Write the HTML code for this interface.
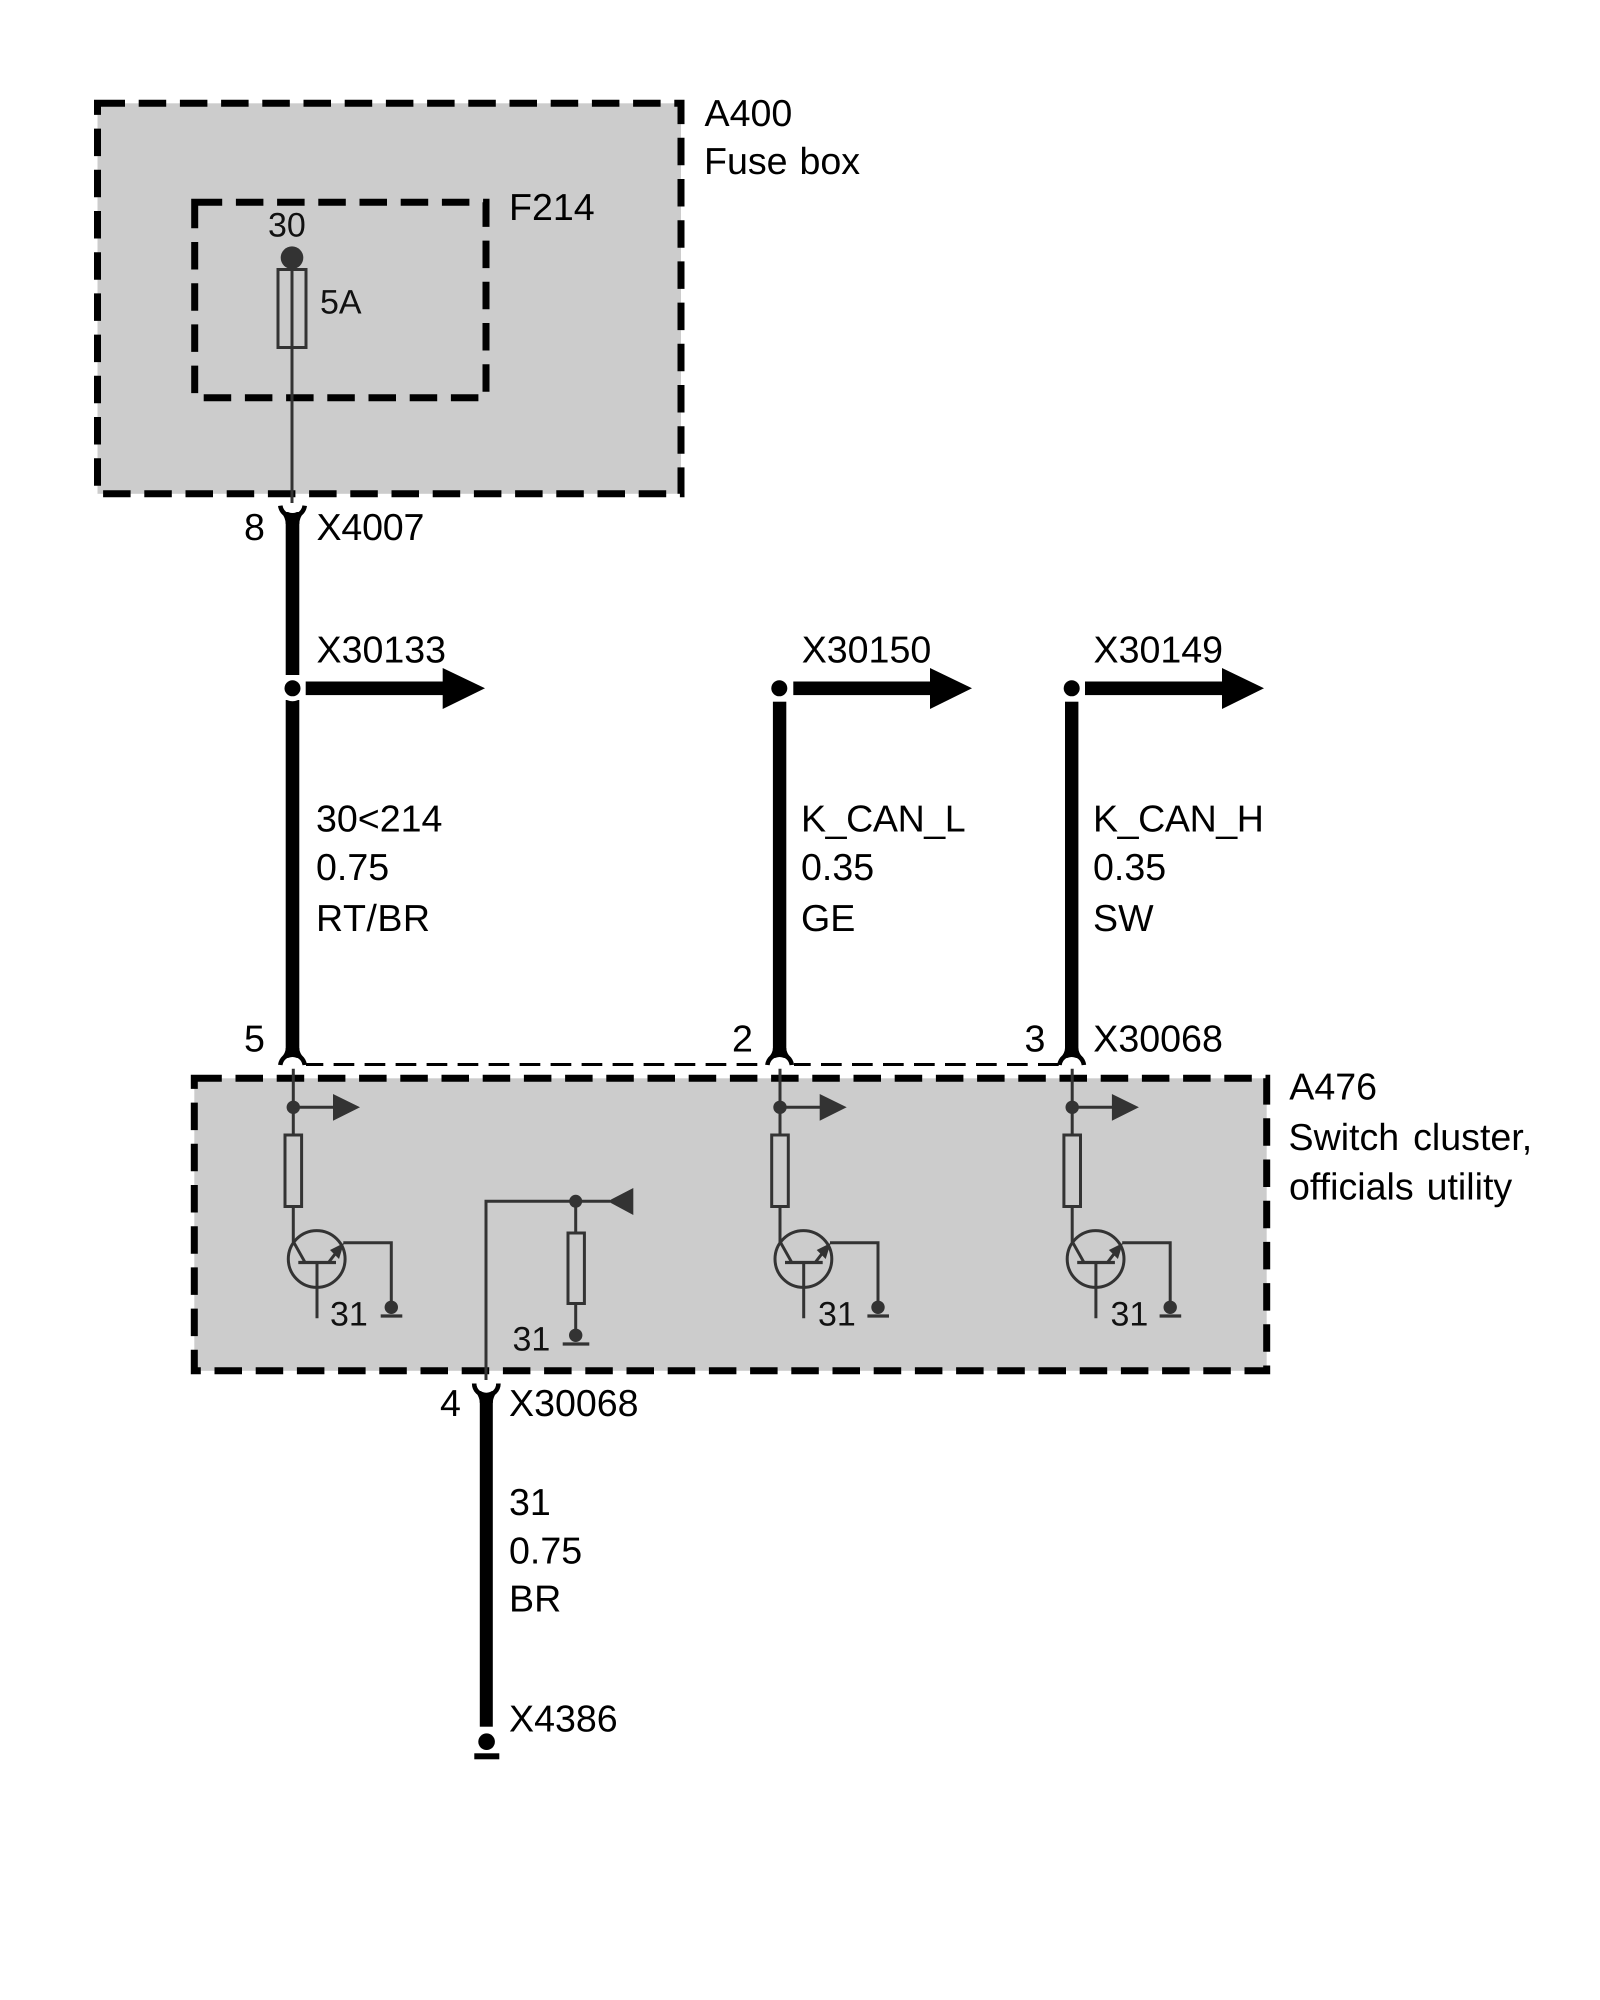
<!DOCTYPE html>
<html>
<head>
<meta charset="utf-8">
<style>
html,body{margin:0;padding:0;background:#fff;width:1600px;height:2000px;overflow:hidden}
svg{display:block}
text{font-family:"Liberation Sans",Arial,sans-serif;fill:#000;font-size:37.6px;text-rendering:geometricPrecision}
.s{font-size:34px;fill:#111}
.t{fill:none;stroke:#333;stroke-width:3}
.d{fill:#333}
.box{stroke:#000;stroke-width:7;stroke-dasharray:27.5 13.7}
.k{letter-spacing:-0.4px}
</style>
</head>
<body>
<svg width="1600" height="2000" viewBox="0 0 1600 2000" xmlns="http://www.w3.org/2000/svg">
<rect width="1600" height="2000" fill="#fff"/>

<!-- thick wires and forks, drawn under boxes -->
<g fill="#000">
  <!-- pin 8 fork -->
  <path d="M285.7 524 Q285.7 518 281 512 L304 512 Q299.3 518 299.3 524Z"/>
  <path d="M280.3 505.7 A12.3 12.3 0 0 0 304.7 505.7" fill="none" stroke="#000" stroke-width="4.6"/>
  <circle cx="292.5" cy="503" r="10" fill="#fff"/>
  <rect x="285.7" y="522" width="13.6" height="153"/>
  <rect x="285.7" y="700" width="13.6" height="350"/>

  <!-- upper forks -->
  <path d="M285.7 1048 Q285.7 1053 281 1058 L304 1058 Q299.3 1053 299.3 1048Z"/>
  <path d="M280.3 1065 A12.3 12.3 0 0 1 304.7 1065" fill="none" stroke="#000" stroke-width="4.6"/>
  <circle cx="292.5" cy="1067" r="10" fill="#fff"/>

  <rect x="772.9" y="701.7" width="13.4" height="348"/>
  <path d="M772.9 1048 Q772.9 1053 768.1 1058 L791.1 1058 Q786.3 1053 786.3 1048Z"/>
  <path d="M767.4 1065 A12.3 12.3 0 0 1 791.8 1065" fill="none" stroke="#000" stroke-width="4.6"/>
  <circle cx="779.6" cy="1067" r="10" fill="#fff"/>

  <rect x="1065" y="701.7" width="13.4" height="348"/>
  <path d="M1065 1048 Q1065 1053 1060.2 1058 L1083.2 1058 Q1078.4 1053 1078.4 1048Z"/>
  <path d="M1059.5 1065 A12.3 12.3 0 0 1 1083.9 1065" fill="none" stroke="#000" stroke-width="4.6"/>
  <circle cx="1071.7" cy="1067" r="10" fill="#fff"/>

  <!-- pin 4 fork -->
  <path d="M474.2 1383.5 A12.1 12.1 0 0 0 498.4 1383.5" fill="none" stroke="#000" stroke-width="4.6"/>
  <path d="M479.8 1403 Q479.8 1397 475 1391 L497.5 1391 Q492.8 1397 492.8 1403Z"/>
  <circle cx="486.3" cy="1383" r="9.8" fill="#fff"/>
  <rect x="479.8" y="1401" width="13" height="325.7"/>
  <circle cx="486.6" cy="1741.7" r="8.3"/>
  <rect x="474.3" y="1753.3" width="25" height="6"/>
</g>

<!-- dashed link -->
<path d="M306 1064.5H765" stroke="#000" stroke-width="3" stroke-dasharray="20.7 10.3" stroke-dashoffset="3.4" fill="none"/>
<path d="M794 1064.5H1059" stroke="#000" stroke-width="3" stroke-dasharray="20.7 10.3" stroke-dashoffset="4" fill="none"/>

<!-- outgoing arrows -->
<g fill="#000">
  <circle cx="292.5" cy="688.3" r="13" fill="#fff"/>
  <circle cx="292.5" cy="688.3" r="8"/>
  <rect x="305.7" y="681.5" width="140" height="13.6"/>
  <polygon points="442.7,668 485,688.3 442.7,709"/>

  <circle cx="779.3" cy="688.3" r="8"/>
  <rect x="793.3" y="681.5" width="140" height="13.6"/>
  <polygon points="930,668 972,688.3 930,709"/>

  <circle cx="1071.7" cy="688.3" r="8"/>
  <rect x="1085" y="681.5" width="140" height="13.6"/>
  <polygon points="1222,668 1264,688.3 1222,709"/>
</g>

<!-- boxes -->
<rect class="box" x="97.5" y="103.3" width="583.5" height="390.5" fill="#ccc"/>
<rect class="box" x="194.7" y="202.3" width="291.3" height="195.5" fill="none"/>
<rect class="box" x="194.3" y="1078.3" width="1072.4" height="292.5" fill="#ccc"/>

<!-- fuse -->
<circle class="d" cx="292" cy="257.7" r="11.3"/>
<rect class="t" x="278" y="269.5" width="28" height="78"/>
<path class="t" d="M292 258V503"/>

<!-- unit 1 -->
<g>
  <path class="t" d="M293.3 1068.7V1134.5M293.3 1207V1241.5L305 1262.3"/>
  <circle class="d" cx="293.3" cy="1107.3" r="6.7"/>
  <path class="t" d="M293.3 1107.3H335"/>
  <polygon class="d" points="333,1094 360,1107.3 333,1120.7"/>
  <rect class="t" x="285" y="1135" width="16.6" height="71.5" fill="#ccc"/>
  <circle class="t" cx="316.7" cy="1259" r="28.4"/>
  <path class="t" style="stroke-width:3.2" d="M298.3 1262.5H336"/>
  <path class="t" d="M317 1262.5V1318.3M328.5 1262.5L342 1245M343.3 1242.7H391.3V1307"/>
  <polygon class="d" points="344,1243 330,1250 339,1259"/>
  <circle class="d" cx="391.3" cy="1307.3" r="6.7"/>
  <path class="t" style="stroke-width:3.3" d="M380.7 1316H402.3"/>
</g>
<!-- unit 2 -->
<g transform="translate(486.7 0)">
  <path class="t" d="M293.3 1068.7V1134.5M293.3 1207V1241.5L305 1262.3"/>
  <circle class="d" cx="293.3" cy="1107.3" r="6.7"/>
  <path class="t" d="M293.3 1107.3H335"/>
  <polygon class="d" points="333,1094 360,1107.3 333,1120.7"/>
  <rect class="t" x="285" y="1135" width="16.6" height="71.5" fill="#ccc"/>
  <circle class="t" cx="316.7" cy="1259" r="28.4"/>
  <path class="t" style="stroke-width:3.2" d="M298.3 1262.5H336"/>
  <path class="t" d="M317 1262.5V1318.3M328.5 1262.5L342 1245M343.3 1242.7H391.3V1307"/>
  <polygon class="d" points="344,1243 330,1250 339,1259"/>
  <circle class="d" cx="391.3" cy="1307.3" r="6.7"/>
  <path class="t" style="stroke-width:3.3" d="M380.7 1316H402.3"/>
</g>
<!-- unit 3 -->
<g transform="translate(778.9 0)">
  <path class="t" d="M293.3 1068.7V1134.5M293.3 1207V1241.5L305 1262.3"/>
  <circle class="d" cx="293.3" cy="1107.3" r="6.7"/>
  <path class="t" d="M293.3 1107.3H335"/>
  <polygon class="d" points="333,1094 360,1107.3 333,1120.7"/>
  <rect class="t" x="285" y="1135" width="16.6" height="71.5" fill="#ccc"/>
  <circle class="t" cx="316.7" cy="1259" r="28.4"/>
  <path class="t" style="stroke-width:3.2" d="M298.3 1262.5H336"/>
  <path class="t" d="M317 1262.5V1318.3M328.5 1262.5L342 1245M343.3 1242.7H391.3V1307"/>
  <polygon class="d" points="344,1243 330,1250 339,1259"/>
  <circle class="d" cx="391.3" cy="1307.3" r="6.7"/>
  <path class="t" style="stroke-width:3.3" d="M380.7 1316H402.3"/>
</g>

<!-- input section -->
<path class="t" d="M486 1380V1201.3H610M575.7 1201.3V1232M575.7 1304V1335"/>
<circle class="d" cx="575.7" cy="1201.3" r="6.5"/>
<polygon class="d" points="607.7,1201.3 633.3,1188 633.3,1215"/>
<rect class="t" x="568" y="1233" width="16.4" height="70.5" fill="#ccc"/>
<circle class="d" cx="575.7" cy="1335.3" r="6.7"/>
<path class="t" style="stroke-width:3.3" d="M562.7 1344H589.3"/>

<!-- labels -->
<text x="704.5" y="126">A400</text>
<text x="704" y="174" style="word-spacing:1.5px">Fuse box</text>
<text x="509" y="220">F214</text>
<text class="s" x="268" y="236.7">30</text>
<text class="s" x="320" y="313.3">5A</text>
<text x="244" y="540">8</text>
<text x="316.5" y="540" style="letter-spacing:-0.2px">X4007</text>
<text x="316.5" y="662.7">X30133</text>
<text x="801.7" y="662.7">X30150</text>
<text x="1093.5" y="662.7">X30149</text>

<text x="316" y="831.7">30&lt;214</text>
<text x="316" y="880">0.75</text>
<text x="316" y="931" style="letter-spacing:0.5px">RT/BR</text>
<text class="k" x="801" y="831.7">K_CAN_L</text>
<text x="801" y="880">0.35</text>
<text x="801" y="931">GE</text>
<text class="k" x="1093" y="831.7">K_CAN_H</text>
<text x="1093" y="880">0.35</text>
<text x="1093" y="931">SW</text>

<text x="244" y="1051.7">5</text>
<text x="732" y="1051.7">2</text>
<text x="1024.5" y="1051.7">3</text>
<text x="1093.3" y="1051.7">X30068</text>

<text x="1289.3" y="1099.5">A476</text>
<text x="1288.5" y="1150" style="word-spacing:3.5px">Switch cluster,</text>
<text x="1289" y="1199.5" style="word-spacing:2.5px">officials utility</text>

<text class="s" x="330" y="1325.7">31</text>
<text class="s" x="818" y="1325.7">31</text>
<text class="s" x="1110.5" y="1325.7">31</text>
<text class="s" x="512.5" y="1350.7">31</text>

<text x="440" y="1416">4</text>
<text x="509" y="1416">X30068</text>
<text x="509" y="1515">31</text>
<text x="509" y="1563.3">0.75</text>
<text x="509" y="1611.7">BR</text>
<text x="509" y="1731.7">X4386</text>
</svg>
</body>
</html>
